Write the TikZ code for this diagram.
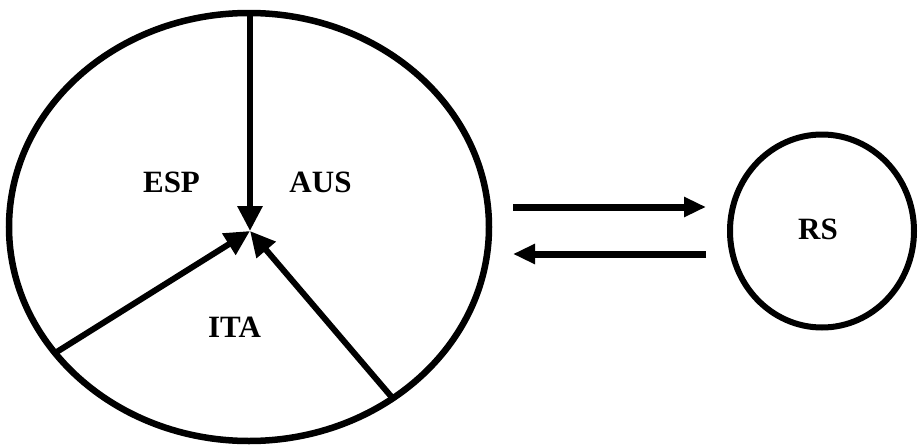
\documentclass[tikz,border=0pt]{standalone}
\usepackage{fontspec}
\setmainfont{Liberation Serif}
\usetikzlibrary{arrows.meta, shapes.geometric}

\tikzset{
  ring/.style={draw=black, ellipse, inner sep=0pt, line width=6.5pt},
  lab/.style={font=\fontsize{31}{34}\selectfont\bfseries},
  spoke/.style={black, line width=6pt, -{Triangle[length=25pt, width=24pt]}},
  flow/.style={black, line width=7pt, -{Triangle[length=22pt, width=19pt]}}
}

\begin{document}
\begin{tikzpicture}[x=1pt, y=-1pt]
\useasboundingbox (0,0) rectangle (919,447);

%\draw (0,0) rectangle (919,447);
\node[ring, minimum width=480pt, minimum height=428pt] (world) at (249,227) {};
\node[ring, minimum width=184pt, minimum height=193pt, line width=6pt] (rs) at (822,231) {};
\node[lab] (rslab) at (818,229) {RS};

\path (171.5,182) node[lab] (esp) {ESP};
\path (320.5,182) node[lab] (aus) {AUS};
\path (234.5,327.5) node[lab] (ita) {ITA};

\coordinate (hub) at (250,231);
\coordinate (top) at (250,13);

\draw[spoke] (top) -- (hub);
\draw[spoke, shorten <=2pt] (world.213) -- (hub);
\draw[spoke, shorten <=2pt] (world.310) -- (hub);

% exchange with RS
\coordinate (goA) at (513,207);
\coordinate (goB) at (706,207);
\coordinate (backA) at (706,254);
\coordinate (backB) at (513,254);
\draw[flow] (goA) -- (goB);
\draw[flow] (backA) -- (backB);
\end{tikzpicture}
\end{document}
